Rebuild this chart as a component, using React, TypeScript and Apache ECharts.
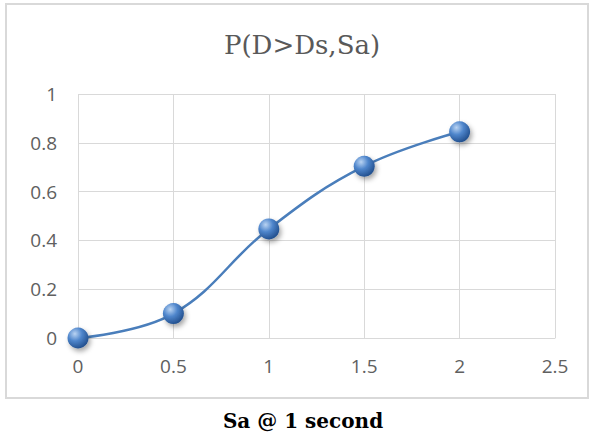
import React, { useEffect, useRef } from "react";
import * as echarts from "echarts";

const xValues = [0, 0.5, 1, 1.5, 2];
const yValues = [0, 0.1, 0.447, 0.704, 0.845];
const chartTitle = "P(D>Ds,Sa)";
const xAxisTitle = "Sa @ 1 second";

export default function App() {
  const ref = useRef<HTMLDivElement>(null);
  useEffect(() => {
    if (!ref.current) return;
    const chart = echarts.init(ref.current, undefined, { renderer: "svg" });
    const data = xValues.map((x, i) => [x, yValues[i]]);
    chart.setOption({
      animation: false,
      backgroundColor: "#ffffff",
      graphic: [
        {
          type: "rect",
          shape: { x: 6, y: 4, width: 582, height: 394 },
          style: { fill: "none", stroke: "#d9d9d9", lineWidth: 2 },
          silent: true,
        },
        {
          type: "text",
          x: 302,
          y: 45,
          style: {
            text: chartTitle,
            align: "center",
            verticalAlign: "middle",
            fontFamily: "DejaVu Serif",
            fontWeight: "normal",
            fontSize: 26,
            fill: "#595959",
          },
          silent: true,
        },
        {
          type: "text",
          x: 303,
          y: 421,
          style: {
            text: xAxisTitle,
            align: "center",
            verticalAlign: "middle",
            fontFamily: "DejaVu Serif",
            fontWeight: "bold",
            fontSize: 20,
            fill: "#000000",
          },
          silent: true,
        },
      ],
      grid: { left: 78, right: 36, top: 94, bottom: 97, outerBoundsMode: "none" },
      xAxis: {
        type: "value",
        min: 0,
        max: 2.5,
        interval: 0.5,
        axisLine: { show: true, lineStyle: { color: "#d9d9d9", width: 1 } },
        axisTick: { show: false },
        splitLine: { show: true, lineStyle: { color: "#d9d9d9", width: 1 } },
        axisLabel: {
          fontFamily: "Open Sans",
          fontSize: 19,
          color: "#606060",
          margin: 18,
        },
      },
      yAxis: {
        type: "value",
        min: 0,
        max: 1,
        interval: 0.2,
        axisLine: { show: false },
        axisTick: { show: false },
        splitLine: { show: true, lineStyle: { color: "#d9d9d9", width: 1 } },
        axisLabel: {
          fontFamily: "Open Sans",
          fontSize: 19,
          color: "#606060",
          margin: 21,
        },
      },
      series: [
        {
          type: "line",
          data,
          smooth: 0.4,
          symbol: "circle",
          symbolSize: 21,
          lineStyle: { color: "#4a7ebb", width: 2.5 },
          itemStyle: {
            color: new echarts.graphic.RadialGradient(0.35, 0.3, 0.75, [
              { offset: 0, color: "#b9d3f2" },
              { offset: 0.45, color: "#4f86cc" },
              { offset: 1, color: "#1f4c8a" },
            ]),
            shadowColor: "rgba(0,0,0,0.35)",
            shadowBlur: 5,
            shadowOffsetX: 2,
            shadowOffsetY: 3,
          },
          z: 3,
        },
      ],
    });
    return () => chart.dispose();
  }, []);
  return <div ref={ref} style={{ width: 591, height: 435, position: "absolute", left: 0, top: 0 }} />;
}
